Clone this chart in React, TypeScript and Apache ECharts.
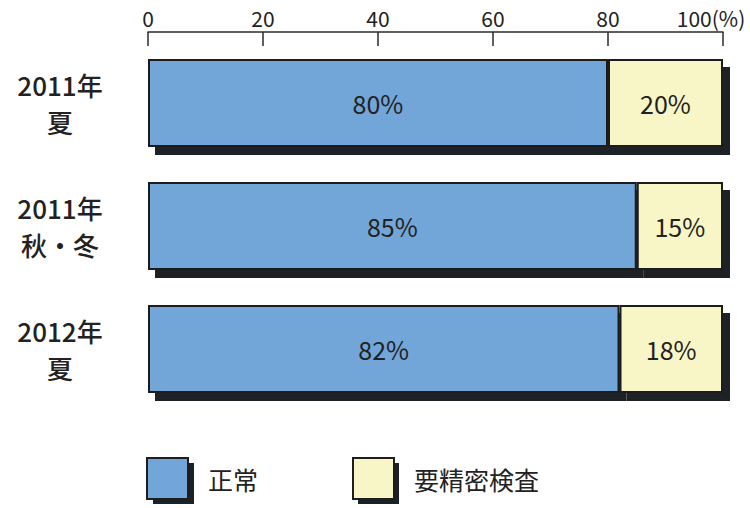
import React, { useEffect, useRef } from "react";
import * as echarts from "echarts";

const categories = ["2011年\n夏", "2011年\n秋・冬", "2012年\n夏"];
const normalValues = [80, 85, 82];
const checkValues = [20, 15, 18];
const tickValues = [0, 20, 40, 60, 80, 100];
const seriesNames = ["正常", "要精密検査"];

const FONT = "'Noto Sans CJK JP', 'Noto Sans', sans-serif";
const SHADOW = "#1b2226";

export default function App() {
  const ref = useRef<HTMLDivElement>(null);
  useEffect(() => {
    if (!ref.current) return;
    const chart = echarts.init(ref.current, null, { renderer: "svg" });
    const barStyle = (color: string) => ({
      color,
      borderColor: "#1e1e1e",
      borderWidth: 2,
      shadowColor: SHADOW,
      shadowBlur: 0,
      shadowOffsetX: 7,
      shadowOffsetY: 8,
    });
    const labelStyle = {
      show: true,
      position: "inside",
      formatter: "{c}%",
      color: "#222",
      fontSize: 25,
      fontFamily: FONT,
    };
    chart.setOption({
      animation: false,
      backgroundColor: "#ffffff",
      textStyle: { fontFamily: FONT },
      grid: { left: 148, right: 27, top: 41.5, height: 369, containLabel: false },
      graphic: [
        { type: "rect", z: 0, shape: { x: 153, y: 463, width: 41, height: 41 }, style: { fill: SHADOW } },
        { type: "rect", z: 0, shape: { x: 358, y: 463, width: 41, height: 41 }, style: { fill: SHADOW } },
      ],
      xAxis: {
        type: "value",
        position: "top",
        offset: 9.5,
        min: 0,
        max: 100,
        interval: 20,
        splitLine: { show: false },
        axisLine: { show: true, lineStyle: { color: "#2a2a2a", width: 1.5 } },
        axisTick: { show: true, inside: true, length: 14, lineStyle: { color: "#2a2a2a", width: 1.5 } },
        axisLabel: {
          margin: 4,
          color: "#222",
          fontSize: 21,
          fontFamily: FONT,
          formatter: (v: number) => (v === tickValues[tickValues.length - 1] ? "{p|" + v + "(%)}" : String(v)),
          rich: { p: { fontSize: 21, color: "#222", fontFamily: FONT, padding: [0, 24, 0, 0] } },
        },
      },
      yAxis: {
        type: "category",
        inverse: true,
        data: categories,
        axisLine: { show: false },
        axisTick: { show: false },
        axisLabel: {
          align: "center",
          margin: 88,
          color: "#222",
          fontSize: 26,
          fontWeight: 500,
          lineHeight: 37,
          fontFamily: FONT,
        },
      },
      legend: {
        left: 146,
        top: 457,
        padding: 0,
        itemWidth: 41,
        itemHeight: 41,
        itemGap: 94,
        icon: "rect",
        data: seriesNames,
        textStyle: { fontSize: 25, color: "#222", fontFamily: FONT, padding: [0, 0, 0, 15] },
        itemStyle: { borderColor: "#1e1e1e", borderWidth: 2 },
      },
      series: [
        {
          name: seriesNames[0],
          type: "bar",
          stack: "total",
          barWidth: 88,
          data: normalValues,
          itemStyle: barStyle("#72a6d8"),
          label: labelStyle,
        },
        {
          name: seriesNames[1],
          type: "bar",
          stack: "total",
          barWidth: 88,
          data: checkValues,
          itemStyle: barStyle("#f8f6c6"),
          label: labelStyle,
        },
      ],
    });
    return () => chart.dispose();
  }, []);
  return (
    <div
      ref={ref}
      style={{ position: "fixed", left: 0, top: 0, width: 750, height: 508, background: "#fff" }}
    />
  );
}
